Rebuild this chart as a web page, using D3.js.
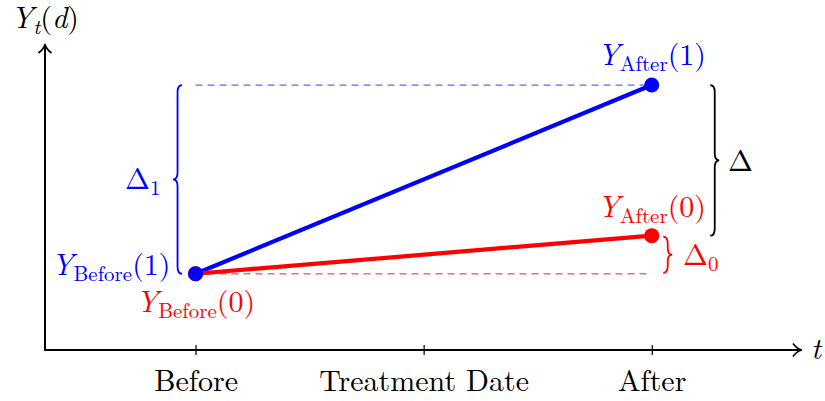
<!DOCTYPE html>
<html>
<head>
<meta charset="utf-8">
<script src="https://cdn.jsdelivr.net/npm/d3@7/dist/d3.min.js"></script>
<style>
  html, body { margin: 0; padding: 0; background: #fff; }
  svg { display: block; }
</style>
</head>
<body>
<svg id="chart" width="825" height="401"></svg>
<script>
// ---- data ----
const periods = ["Before", "Treatment Date", "After"];
const periodPos = [0, 1, 2];
const treatedValues = [2.0, 6.95];   // Y_Before(1), Y_After(1)
const controlValues = [2.0, 3.0];    // Y_Before(0), Y_After(0)
const pointPeriods = [0, 2];

const svg = d3.select("#chart");
const BLUE = "#0000ff", RED = "#ff0000";
const FONT = '"Latin Modern Roman", "CMU Serif", "Liberation Serif", serif';

const x = d3.scaleLinear().domain([-0.66, 2.65]).range([45, 800]);
const y = d3.scaleLinear().domain([0, 8]).range([350, 45]);

const x0 = x.range()[0], y0 = y.range()[0];

// ---- axes ----
const axis = d3.axisBottom(x).tickValues(periodPos).tickFormat((d, i) => periods[i]).tickSize(5).tickPadding(0);
const gx = svg.append("g").attr("transform", `translate(0,${y0})`).call(axis);
gx.select(".domain").remove();
gx.selectAll(".tick line").attr("y1", -5).attr("y2", 5).attr("stroke", "#000").attr("stroke-width", 1.2);
gx.selectAll(".tick text").style("font-family", FONT).style("font-size", "30px").attr("fill", "#000")
  .attr("y", 41).attr("dy", 0);

// axis lines
svg.append("line").attr("x1", x0).attr("y1", y0).attr("x2", 801).attr("y2", y0)
  .attr("stroke", "#000").attr("stroke-width", 2);
svg.append("line").attr("x1", x0).attr("y1", y0 + 1).attr("x2", x0).attr("y2", 45)
  .attr("stroke", "#000").attr("stroke-width", 2);
// arrow heads
svg.append("path").attr("d", `M793,343.5 Q797,349 802,350 Q797,351 793,356.5`)
  .attr("fill", "none").attr("stroke", "#000").attr("stroke-width", 1.6);
svg.append("path").attr("d", `M38.5,53 Q44,49 45,44 Q46,49 51.5,53`)
  .attr("fill", "none").attr("stroke", "#000").attr("stroke-width", 1.6);

// math text helper
function mathText(g, parts, attrs) {
  const t = g.append("text").style("font-family", FONT);
  Object.entries(attrs).forEach(([k, v]) => t.attr(k, v));
  let shift = 0;
  parts.forEach(p => {
    const s = t.append("tspan").text(p.t);
    s.style("font-size", (p.sub ? 21 : 30) + "px");
    if (p.it) s.style("font-style", "italic");
    const target = p.sub ? 6 : 0;
    if (target !== shift) { s.attr("dy", target - shift); shift = target; }
  });
  return t;
}

// axis labels
mathText(svg, [{t: "Y", it: true}, {t: "t", it: true, sub: true}, {t: "("}, {t: "d", it: true}, {t: ")"}],
  {x: 11, y: 28, fill: "#000"});
mathText(svg, [{t: "t", it: true}], {x: 811, y: 359, fill: "#000"});

// ---- dashed reference lines ----
svg.append("line").attr("x1", x(0)).attr("x2", x(2)).attr("y1", y(treatedValues[1])).attr("y2", y(treatedValues[1]))
  .attr("stroke", "#6666ff").attr("stroke-width", 1.3).attr("stroke-dasharray", "7,5");
svg.append("line").attr("x1", x(0)).attr("x2", x(2)).attr("y1", y(controlValues[0])).attr("y2", y(controlValues[0]))
  .attr("stroke", "#ff6666").attr("stroke-width", 1.3).attr("stroke-dasharray", "7,5");

// ---- lines ----
const line = d3.line().x((d, i) => x(pointPeriods[i])).y(d => y(d));
svg.append("path").datum(treatedValues).attr("d", line).attr("fill", "none").attr("stroke", BLUE).attr("stroke-width", 4.2);
svg.append("path").datum(controlValues).attr("d", line).attr("fill", "none").attr("stroke", RED).attr("stroke-width", 4.2);

svg.selectAll(".dotc").data(controlValues).join("circle")
  .attr("cx", (d, i) => x(pointPeriods[i])).attr("cy", d => y(d)).attr("r", 7.5).attr("fill", RED);
svg.selectAll(".dott").data(treatedValues).join("circle")
  .attr("cx", (d, i) => x(pointPeriods[i])).attr("cy", d => y(d)).attr("r", 7.5).attr("fill", BLUE);

// ---- braces ----
function brace(xs, y1, y2, dir, color) {
  const a = 4.5, r = 7;
  const ex = xs - dir * a, tx = xs + dir * a;
  const ym = (y1 + y2) / 2;
  const d = `M${ex},${y1} Q${xs},${y1} ${xs},${y1 + r} L${xs},${ym - r} Q${xs},${ym} ${tx},${ym} ` +
            `Q${xs},${ym} ${xs},${ym + r} L${xs},${y2 - r} Q${xs},${y2} ${ex},${y2}`;
  svg.append("path").attr("d", d).attr("fill", "none").attr("stroke", color).attr("stroke-width", 1.8);
  return ym;
}
const bym = brace(x(0) - 18, y(treatedValues[1]), y(treatedValues[0]), -1, BLUE);
const kym = brace(x(2) + 63, y(treatedValues[1]), y(controlValues[1]), 1, "#000");
const rym = brace(x(2) + 16, y(controlValues[1]) + 1, y(controlValues[0]) - 1, 1, RED);

mathText(svg, [{t: "Δ"}, {t: "1", sub: true}], {x: 125, y: bym + 10, fill: BLUE});
mathText(svg, [{t: "Δ"}], {x: 728, y: kym + 11, fill: "#000"});
mathText(svg, [{t: "Δ"}, {t: "0", sub: true}], {x: 683, y: rym + 10, fill: RED});

// ---- point labels ----
mathText(svg, [{t: "Y", it: true}, {t: "After", sub: true}, {t: "(1)"}],
  {x: x(2), y: y(treatedValues[1]) - 20, fill: BLUE, "text-anchor": "middle"});
mathText(svg, [{t: "Y", it: true}, {t: "After", sub: true}, {t: "(0)"}],
  {x: x(2), y: y(controlValues[1]) - 19, fill: RED, "text-anchor": "middle"});
mathText(svg, [{t: "Y", it: true}, {t: "Before", sub: true}, {t: "(1)"}],
  {x: x(0) - 25, y: y(treatedValues[0]) + 1, fill: BLUE, "text-anchor": "end"});
mathText(svg, [{t: "Y", it: true}, {t: "Before", sub: true}, {t: "(0)"}],
  {x: x(0), y: y(controlValues[0]) + 38, fill: RED, "text-anchor": "middle"});
</script>
</body>
</html>
